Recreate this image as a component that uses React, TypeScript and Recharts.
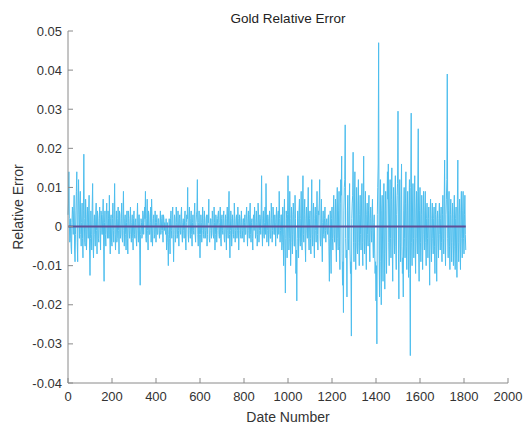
import React from 'react';
import { LineChart, Line, XAxis, YAxis, ReferenceLine } from 'recharts';

// relative error in thousandths, one sample every DATE_STEP date numbers
const DATE_STEP = 2;
const relErrorPermille = [
  3, 6, 14, 2, -4, -3, 2, -5, -7, 1, 5, 3, -2, 4, 8, -6, -9, -2, 4, 9, 14, -4, -9, 5, 12, 3, -3, 6, 9, -2, -5, 1, 6, -3, -8, 4, 18.5, 2, -4, -5, 7, 3, -6, -2, 5, 1, -3, 4, 8, -6,
  -12.5, -3, 4, -2, -6, 5, 11, -4, -8, 1, 3, -2, -5, 3, 6, -1, -7, 4, 2, -3, -4, 2, 5, -1, -6, 4, 3, -2, -2, 3, 7, -5, -14, 1, 4, -2, -5, 3, 6, -1, -3, 4, 2, -3, 8, -2, -7, 2, 3, -4,
  -5, 2, 6, -1, -4, 3, 11, -2, -6, 1, 4, -4, -3, 2, 5, -1, -7, 4, 3, -3, -2, 2, 6, -3, -4, 3, 9, -1, -5, 2, 3, -2, -6, 1, 4, -3, -7, 4, 2, -1, -3, 2, 5, -2, -4, 1, 3, -3, -6, 2,
  4, -2, -3, 1, 2, -3, -5, 2, 6, -1, -4, 3, 3, -6, -15, -2, 2, 1, -3, -2, 4, 3, -2, 1, 5, 2, 9, -3, -4, 2, 7, -1, -6, 4, 3, -2, -2, 1, 5, -4, 7, 2, -5, -1, 2, 3, -3, -2, 4, 1,
  -4, 1, 3, -2, -2, 2, 2, -1, -3, 1, 4, -2, -1, 2, 3, -1, -4, 3, 2, -1, 1, -1, -2, 2, -6, -3, 1, -4, -10, -2, 2, -3, -7, 2, 4, -1, -3, 3, 5, -2, -9, -1, 3, 2, -4, -2, 5, 1, -3, -2,
  4, -1, -5, 2, 3, -1, -2, 3, 5, -2, -4, 1, 2, -1, -3, 2, 4, -3, -6, 1, 3, 2, 10, -2, -4, 3, 5, -1, -3, 2, 4, -2, -5, 1, 3, -1, -2, 3, 6, -2, -4, 1, 3, 4, 12, -2, -5, 1, 4, -2,
  -8, -2, 3, 1, -4, -1, 5, 2, -2, -3, 4, 1, -3, -1, 2, 3, -5, -2, 3, 1, 7, -3, -4, -1, 2, 2, -3, -1, 4, 2, -2, -3, 5, 1, -6, -2, 3, 2, -4, -1, 2, 3, 4, -2, -3, 1, 5, -3, -5, 2,
  3, -1, -2, 2, 4, -3, -4, 1, 3, -2, -6, 2, 5, -1, -3, 4, 9, -2, -8, -1, 4, 2, -5, -2, 3, 1, -2, -3, 6, 2, -4, -1, 2, 3, -3, -1, 5, 2, -6, -1, 3, 2, -2, -3, 4, 1, -3, -1, 2, 2,
  -4, 1, 3, -2, -2, 3, 5, -1, -5, 2, 4, -1, -3, 3, 6, -2, -4, 1, 2, -3, -6, 2, 3, -1, 5, 2, -3, -2, 4, 1, -5, -2, 6, 3, -4, -1, 3, 2, -2, 3, 13, -1, -5, 2, 4, -2, -3, 1, 5, -2,
  11, 3, -4, -1, 3, 2, -5, -2, 4, 1, -3, -3, 6, 2, -4, -1, 5, 3, -2, -2, 3, 1, -5, 2, 5, -1, -3, 3, 4, -2, 9, 2, -4, -1, 3, 3, -6, -4, 5, -2, -10, 3, 7, -6, -17, -3, 4, 2, -8, 3,
  13, 4, -6, -3, 9, 2, -10, -4, 5, 3, -7, -2, 6, 3, -5, -5, 8, 2, -12, -6, -19, -3, 4, 2, -8, 4, 7, -3, -5, 2, 9, -4, -6, 5, 13, -2, -4, 3, 7, -4, -9, 2, 5, -1, -3, 4, 10, -3, -6, 2,
  4, -3, -7, 4, 12, -2, -5, 3, 6, -4, -8, 2, 5, -1, -4, 3, 9, -2, -6, 4, 3, 6, 12, -3, -5, 2, 7, -4, -9, 1, 4, -2, -3, 2, 5, -1, -4, 1, 2, -1, -2, 2, 3, -5, -14, -3, 4, -6, -12, 2,
  5, -3, -6, 4, 8, -2, -4, 3, 7, -4, -9, 5, 10, -3, -6, 4, 9, -5, -11, 6, 12, 8, 18, -7, -15, -9, -22, 4, 10, 12, 26, -3, -8, -6, -18, 4, 8, -3, -6, 5, 11, -6, -12, -9, -28, 2, 6, 8, 19, -4,
  -9, 5, 14, -4, -11, 3, 10, -5, -7, 6, 12, -4, -10, 3, 8, -2, -6, 5, 11, -4, -10, 7, 18, -3, -7, 4, 9, -5, -11, 3, 6, -2, -5, 4, 8, -4, -9, 2, 5, -1, -4, 3, 7, -4, -8, 1, 3, -6, -12, -9,
  -19, -10, -30, 3, 10, 16, 47, -7, -18, 5, 12, -9, -20, 4, 8, -6, -14, 5, 11, -7, -16, 4, 9, -5, -12, 6, 14, 7, 16, -4, -10, 5, 12, -3, -8, 7, 15, -6, -14, 4, 10, -3, -7, 6, 13, -5, -11, 3, 8, 11,
  29.5, -7, -18.5, 5, 12, -4, -9, 7, 16, -5, -12, -8, -18, 4, 10, -3, -8, 6, 14, -5, -11, 4, 9, -6, -13, 5, 12, -12, -33, 10, 29, -4, -10, 5, 11, -3, -8, 6, 13, -5, -12, 4, 9, -3, -7, 9, 25, -6, -14, 4,
  10, -4, -9, 3, 8, -5, -11, 4, 9, -2, -6, 4, 9, -4, -10, 2, 6, -3, -8, 2, 5, -6, -15, 3, 7, -4, -9, 2, 6, -3, -7, 2, 5, -5, -12, 3, 6, -6, -14, 2, 4, -3, -8, 2, 6, -2, -6, 2, 5, -4,
  -9, 3, 8, -3, -7, 6, 17, -4, -10, 3, 7, 12, 39, -3, -8, 4, 9, -5, -11, 3, 7, -4, -9, 2, 6, -4, -10, 3, 8, -5, -11, 2, 5, -6, -13, 7, 17, -4, -9, 3, 7, -5, -11, 4, 9, -3, -8, 4, 9, -3,
  -7, 3, 8, -2, -6,
];

const xTicks = [0, 200, 400, 600, 800, 1000, 1200, 1400, 1600, 1800, 2000];
const yTicks = [-0.04, -0.03, -0.02, -0.01, 0, 0.01, 0.02, 0.03, 0.04, 0.05];

const chartData = relErrorPermille.map((v, i) => ({ date: i * DATE_STEP, err: v / 1000 }));
const lastDate = chartData[chartData.length - 1].date;

const FONT = '"Liberation Sans", Arial, sans-serif';
const AXIS = '#8a8a8a';
const TEXT = '#333333';

const formatY = (v: number) => (v === 0 ? '0' : v.toFixed(2));

const BottomTick = (props: any) => {
  const { x, y, payload } = props;
  return (
    <g>
      <line x1={x} y1={y} x2={x} y2={y - 5} stroke={AXIS} />
      <text x={x} y={y + 18} textAnchor="middle" fontSize={13} fill={TEXT} fontFamily={FONT}>
        {payload.value}
      </text>
    </g>
  );
};

const LeftTick = (props: any) => {
  const { x, y, payload } = props;
  return (
    <g>
      <line x1={x} y1={y} x2={x + 5} y2={y} stroke={AXIS} />
      <text x={x - 6} y={y + 4.5} textAnchor="end" fontSize={13} fill={TEXT} fontFamily={FONT}>
        {formatY(payload.value)}
      </text>
    </g>
  );
};

export default function App() {
  return (
    <div style={{ position: 'absolute', left: 0, top: 0, width: 531, height: 426, background: '#fff' }}>
      <div
        style={{
          position: 'absolute',
          left: 68,
          width: 440,
          top: 11,
          textAlign: 'center',
          fontFamily: FONT,
          fontSize: 13.5,
          color: '#222',
        }}
      >
        Gold Relative Error
      </div>
      <div
        style={{
          position: 'absolute',
          left: 68,
          width: 440,
          top: 409,
          textAlign: 'center',
          fontFamily: FONT,
          fontSize: 14,
          color: TEXT,
        }}
      >
        Date Number
      </div>
      <div
        style={{
          position: 'absolute',
          left: 18 - 60,
          top: 207 - 9,
          width: 120,
          textAlign: 'center',
          transform: 'rotate(-90deg)',
          fontFamily: FONT,
          fontSize: 14,
          color: TEXT,
          lineHeight: '18px',
        }}
      >
        Relative Error
      </div>
      <LineChart
        width={531}
        height={426}
        data={chartData}
        margin={{ top: 31, right: 23, bottom: 0, left: 0 }}
        style={{ position: 'absolute', left: 0, top: 0 }}
      >
        <XAxis
          dataKey="date"
          type="number"
          domain={[0, 2000]}
          ticks={xTicks}
          interval={0}
          height={43}
          tickSize={0}
          tickMargin={0}
          tickLine={false}
          axisLine={{ stroke: AXIS }}
          tick={BottomTick}
        />
        <XAxis
          xAxisId="top"
          orientation="top"
          type="number"
          domain={[0, 2000]}
          ticks={xTicks}
          interval={0}
          height={0}
          mirror
          tick={false}
          tickSize={5}
          tickLine={{ stroke: AXIS }}
          axisLine={{ stroke: AXIS }}
        />
        <YAxis
          type="number"
          domain={[-0.04, 0.05]}
          ticks={yTicks}
          interval={0}
          width={68}
          tickSize={0}
          tickMargin={0}
          tickLine={false}
          axisLine={{ stroke: AXIS }}
          tick={LeftTick}
        />
        <YAxis
          yAxisId="right"
          orientation="right"
          type="number"
          domain={[-0.04, 0.05]}
          ticks={yTicks}
          interval={0}
          width={0}
          mirror
          tick={false}
          tickSize={5}
          tickLine={{ stroke: AXIS }}
          axisLine={{ stroke: AXIS }}
        />
        <Line
          type="linear"
          dataKey="err"
          stroke="#4DBEEE"
          strokeWidth={1}
          dot={false}
          isAnimationActive={false}
        />
        <ReferenceLine
          segment={[
            { x: 0, y: 0 },
            { x: lastDate, y: 0 },
          ]}
          stroke="#5f4f96"
          strokeWidth={2}
        />
      </LineChart>
    </div>
  );
}
